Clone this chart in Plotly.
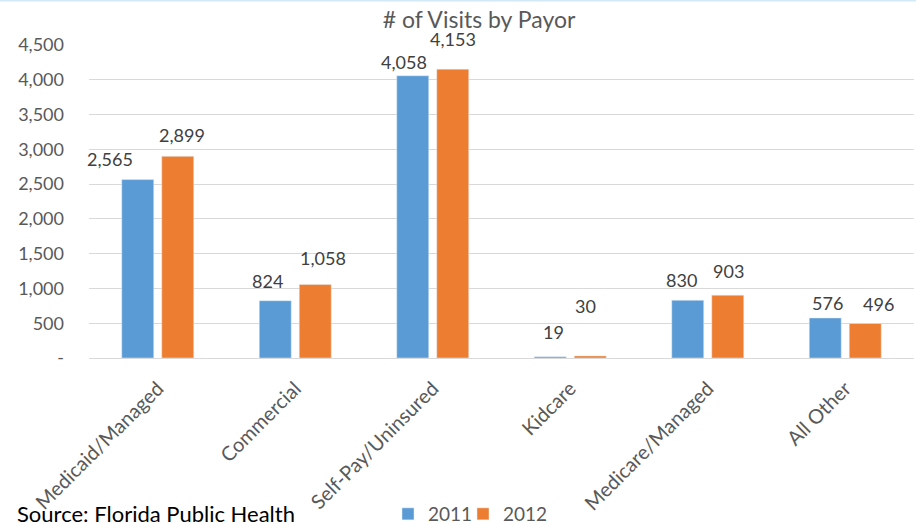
import plotly.graph_objects as go

categories = ["Medicaid/Managed", "Commercial", "Self-Pay/Uninsured", "Kidcare", "Medicare/Managed", "All Other"]
visits_2011 = [2565, 824, 4058, 19, 830, 576]
visits_2012 = [2899, 1058, 4153, 30, 903, 496]
series_names = ["2011", "2012"]
y_tickvals = [0, 500, 1000, 1500, 2000, 2500, 3000, 3500, 4000, 4500]
y_ticktext = ["-", "500", "1,000", "1,500", "2,000", "2,500", "3,000", "3,500", "4,000", "4,500"]

# label nudges (pixels) to mimic the manually-placed Excel labels
dx_2011 = [-28, -8, -9, 3, -6, 2]
dy_2011 = [21, 20, 14, 25, 20, 15]
dx_2012 = [4, 8, 0, -5, 1, 13]
dy_2012 = [21, 26, 30, 50, 24, 20]

BLUE = "#5B9BD5"
ORANGE = "#ED7D31"
FONT = "Lato"

L, R, T, B = 89, 2, 45, 167
W, H = 916, 525
plot_w = W - L - R
plot_h = H - T - B
cat_px = plot_w / len(categories)

fig = go.Figure()
fig.add_trace(go.Bar(x=categories, y=visits_2011, name=series_names[0], marker_color=BLUE,
                     width=32 / cat_px, offset=-36 / cat_px, legend="legend"))
fig.add_trace(go.Bar(x=categories, y=visits_2012, name=series_names[1], marker_color=ORANGE,
                     width=32 / cat_px, offset=4 / cat_px, legend="legend2"))

def fmt(v):
    return f"{v:,}"

annotations = []
for i, c in enumerate(categories):
    annotations.append(dict(x=c, y=visits_2011[i], xref="x", yref="y", text=fmt(visits_2011[i]),
                            showarrow=False, xshift=-20 + dx_2011[i], yshift=dy_2011[i],
                            yanchor="middle", xanchor="center",
                            font=dict(family=FONT, size=18, color="#404040")))
    annotations.append(dict(x=c, y=visits_2012[i], xref="x", yref="y", text=fmt(visits_2012[i]),
                            showarrow=False, xshift=20 + dx_2012[i], yshift=dy_2012[i],
                            yanchor="middle", xanchor="center",
                            font=dict(family=FONT, size=18, color="#404040")))

annotations.append(dict(text="Source: Florida Public Health", xref="paper", yref="paper",
                        x=(15 - L) / plot_w, y=(H - B - 513) / plot_h, xanchor="left", yanchor="middle",
                        showarrow=False, font=dict(family=FONT, size=22, color="#000000")))

legend_style = dict(orientation="h", xanchor="left", xref="container",
                    y=(H - 514) / H, yref="container", yanchor="middle",
                    font=dict(family=FONT, size=19, color="#595959"),
                    bgcolor="rgba(0,0,0,0)", itemwidth=30)

fig.update_layout(
    width=W, height=H,
    margin=dict(l=L, r=R, t=T, b=B),
    paper_bgcolor="white", plot_bgcolor="white",
    title=dict(text="# of Visits by Payor", x=(479) / W, xanchor="center", y=1 - 20 / H, yanchor="middle",
               font=dict(family=FONT, size=23, color="#595959")),
    barmode="group",
    showlegend=True,
    legend=dict(x=388 / W, **legend_style),
    legend2=dict(x=463 / W, **legend_style),
    annotations=annotations,
    shapes=[dict(type="line", xref="paper", yref="paper", x0=-L / plot_w, x1=(W - L) / plot_w,
                 y0=(H - B) / plot_h - 0.5 / plot_h, y1=(H - B) / plot_h - 0.5 / plot_h,
                 line=dict(color="#D3E9F5", width=2))],
)
fig.update_xaxes(range=[-0.5, 5.5], tickangle=-45, tickfont=dict(family=FONT, size=20, color="#595959"),
                 showline=True, linecolor="#D9D9D9", linewidth=1, ticks="", showgrid=False,
                 ticklabelstandoff=10, automargin=False)
fig.update_yaxes(range=[0, 4500], tickvals=y_tickvals, ticktext=y_ticktext,
                 tickfont=dict(family=FONT, size=18, color="#595959"),
                 showgrid=True, gridcolor="#D9D9D9", gridwidth=1, zeroline=False,
                 showline=False, ticks="", ticklabelstandoff=24, automargin=False)

fig.write_html("out.html")
